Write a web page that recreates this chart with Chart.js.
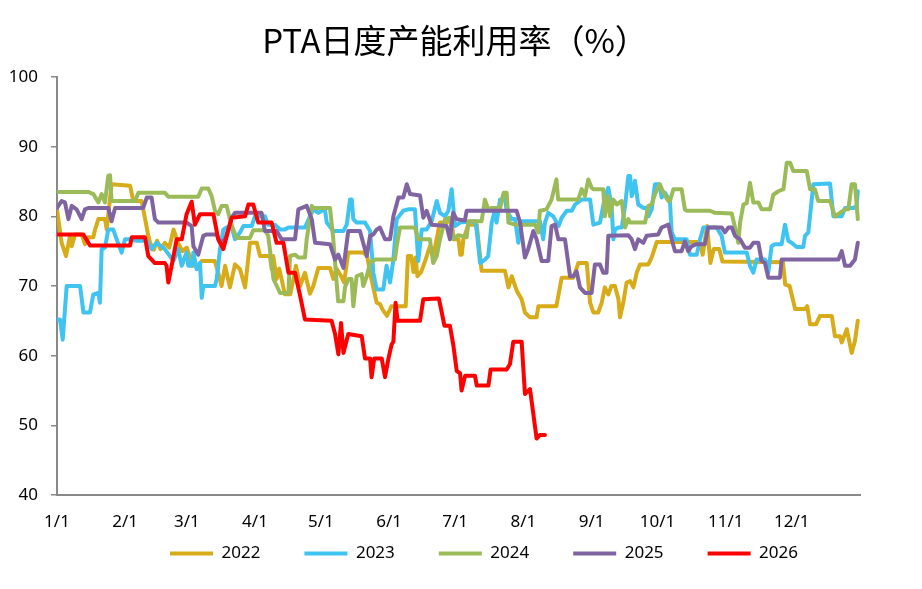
<!DOCTYPE html>
<html>
<head>
<meta charset="utf-8">
<script src="https://cdn.jsdelivr.net/npm/chart.js@4.4.0/dist/chart.umd.min.js"></script>
<style>
html,body{margin:0;padding:0;background:#fff;}
#wrap{width:922px;height:589px;}
</style>
</head>
<body>
<div id="wrap"><canvas id="c" width="922" height="589"></canvas></div>
<script>
// x = day of year (0 = 1/1), y = utilisation %
const monthStartDays = [0,31,59,90,120,151,181,212,243,273,304,334];
const monthLabels = ['1/1','2/1','3/1','4/1','5/1','6/1','7/1','8/1','9/1','10/1','11/1','12/1'];
const yTicks = [40,50,60,70,80,90,100];
const seriesNames = ['2022','2023','2024','2025','2026'];

const s2022 = [[0,81.0],[2.1,76.2],[4.1,74.3],[5.9,77.2],[6.7,75.7],[8.2,77.4],[11.2,77.4],[12.7,76.0],[14.2,77.0],[16.5,77.0],[17.3,78.1],[18.8,79.6],[21.8,79.6],[22.6,78.1],[24.8,84.6],[33.2,84.4],[34.7,82.2],[38.5,82.2],[41.5,77.2],[42.3,76.2],[44,75.2],[45.5,76.5],[47,75.3],[49,76.2],[51,75.5],[53,78.1],[55,76.2],[57,75.0],[59,75.5],[60.5,74.0],[61.5,72.9],[64.2,72.9],[65.8,73.6],[71.7,73.6],[73.3,71.9],[74.8,70.0],[76.4,72.9],[78.6,69.8],[80.9,73.1],[83.2,72.4],[85.5,69.8],[87.7,76.2],[90.8,76.2],[92.3,74.3],[96.8,74.3],[97.6,72.4],[98.3,74.3],[99.8,71.0],[101,72.5],[103.6,68.8],[106,68.8],[107.5,71.0],[108.6,72.9],[110.5,70.0],[112.7,71.9],[115,68.9],[116.5,70.0],[118.8,72.6],[124.1,72.6],[125.6,71.0],[127,72.5],[129,71.5],[130.5,70.5],[132.4,74.8],[139.2,74.8],[141,74.3],[142.3,71.9],[145.3,67.6],[146.8,67.4],[148,66.6],[150,65.7],[152,67.1],[158.5,67.1],[159.5,74.3],[161,74.3],[162,72.0],[163,74.1],[163.8,71.4],[165.5,72.0],[167,73.3],[169.5,75.7],[171,74.3],[172.5,76.6],[174,79.1],[177,79.1],[179,79.6],[180.5,76.7],[182.5,76.7],[183.3,74.5],[184,74.5],[184.7,76.7],[187,78.8],[190.8,78.8],[191.5,76.7],[193,72.2],[203.6,72.2],[205.2,69.8],[206.7,71.4],[209,69.3],[211.2,68.1],[212.7,66.2],[215,65.5],[218,65.5],[218.8,67.1],[227,67.1],[229.4,71.2],[234.7,71.2],[237,73.3],[240.8,73.3],[242.3,67.6],[243.8,66.2],[246,66.2],[247.6,67.6],[249,69.8],[250.6,68.8],[252,70.0],[253.6,70.0],[255.2,68.1],[255.9,65.5],[257.4,67.6],[258.9,70.5],[260.5,70.7],[262,69.8],[263.5,71.9],[265,73.1],[268.8,73.1],[270.3,74.1],[272.6,76.3],[292,76.3],[293.5,74.5],[295.5,78.6],[297,73.3],[298.5,75.3],[301,75.3],[302.5,73.5],[330,73.4],[331,70.2],[333,70.0],[335.5,66.7],[340,66.7],[341,67.1],[342.3,64.5],[345,64.5],[346.8,65.7],[352.2,65.7],[353.6,62.8],[355.9,62.8],[356.7,61.9],[359,63.8],[361.2,60.4],[362.7,62.1],[364,65.0]];

const s2023 = [[0,65.2],[1.4,65.2],[2.6,62.3],[4.4,70.0],[10.5,70.0],[12,66.2],[15,66.2],[16.5,68.8],[18.8,69.0],[19.5,67.6],[20.3,75.3],[21.8,75.5],[23.3,78.1],[25.6,78.1],[27.1,76.7],[29.4,74.8],[30.9,76.7],[33.2,76.7],[36.2,76.5],[40.8,76.5],[43,75.3],[45.3,76.2],[49,75.3],[52.9,73.6],[55.1,75.3],[56.7,72.9],[58.9,74.8],[59.7,72.9],[61.2,72.9],[62,74.8],[63.5,72.4],[65,73.3],[65.8,68.3],[66.5,70.0],[71.8,70.0],[72.6,71.0],[74.1,75.3],[75.6,78.1],[77.1,78.4],[79.4,78.4],[80.9,76.7],[83.2,77.7],[84.7,78.6],[88.5,78.6],[90,80.0],[94.5,80.0],[96,78.8],[99,78.8],[101.4,78.1],[103.6,78.1],[105.2,78.4],[112.7,78.4],[115,80.0],[116.5,81.0],[118.8,80.5],[120.3,80.8],[121.8,81.0],[122.6,79.1],[125.6,77.9],[130.2,77.9],[131.7,78.8],[133.2,82.4],[134,82.4],[134.7,79.6],[136.2,79.1],[140,79.1],[142.3,77.9],[143.8,71.9],[145.3,69.5],[148.3,69.5],[149.8,72.9],[151.4,70.5],[152.9,73.8],[154.4,79.6],[157.4,80.8],[159.7,81.0],[162.7,81.0],[164.2,73.6],[165.8,78.1],[168,78.1],[170.3,79.3],[172.6,82.2],[174.1,80.5],[176.4,80.0],[177.9,80.8],[179.4,83.9],[180.9,78.6],[183.2,79.1],[190,79.3],[190.8,77.9],[192.3,73.3],[194.5,73.8],[196,74.3],[197.6,79.1],[199,80.8],[199.8,79.1],[201.4,82.4],[203.6,82.6],[204.4,80.8],[206.7,79.6],[208.2,79.6],[209.7,76.2],[211.2,79.3],[219.5,79.3],[221,76.7],[221.8,79.1],[223.3,80.5],[225.6,80.0],[228,78.6],[229.4,79.8],[231.7,80.8],[234,80.8],[235.5,81.7],[238.5,82.4],[242.3,82.4],[243.8,78.8],[246.8,79.1],[249,82.7],[250.6,84.1],[252.1,81.5],[252.9,76.7],[253.6,78.1],[255.2,78.4],[256.7,78.4],[258.2,81.5],[259.7,85.8],[260.5,85.8],[261.2,82.9],[262,83.6],[262.7,85.1],[264.2,81.7],[266.5,81.2],[268,81.2],[268.8,80.0],[270.3,81.0],[271.8,84.6],[274,84.6],[274.8,82.7],[276.3,83.4],[278.6,82.2],[279.4,77.7],[280.9,76.7],[286.2,76.7],[287.7,74.5],[290.8,74.5],[292.3,76.7],[293.8,78.4],[299.8,78.4],[302.1,77.2],[303.6,74.8],[313.5,74.8],[315,72.9],[316.5,71.9],[318,73.8],[321.8,73.8],[323.3,71.9],[324.8,75.7],[326.4,76.0],[329.4,76.0],[330.9,78.8],[332.4,76.5],[333.9,76.2],[336.2,75.6],[339.2,75.6],[340,77.2],[341.5,77.7],[343.8,84.6],[351.4,84.7],[352.9,80.0],[356.7,80.0],[358.2,81.2],[362,81.2],[363.5,81.5],[364,83.6]];

const s2024 = [[0,83.5],[14.2,83.5],[16.5,83.2],[18.8,82.0],[20.3,83.2],[21.8,82.0],[23.3,85.8],[24.1,85.9],[24.8,82.2],[35.5,82.2],[37,83.4],[49,83.4],[50.6,82.8],[64.2,82.8],[65.8,84.0],[68.8,84.0],[70.3,82.9],[71.8,80.8],[73.3,80.3],[74.8,81.5],[77.1,81.5],[78.6,79.6],[80.1,78.1],[81.7,76.9],[87.7,76.9],[89.2,78.0],[94.5,78.0],[96,77.2],[98.4,71.0],[99.9,70.0],[101.4,69.0],[105.2,69.0],[105.9,74.3],[108.2,74.5],[109.7,74.1],[112.7,74.1],[113.5,76.7],[115.8,81.5],[116.5,81.2],[124.1,81.2],[125.6,76.7],[127.1,70.5],[127.8,67.8],[130.2,67.8],[130.9,69.8],[132.4,71.0],[133.9,71.0],[134.7,67.1],[136.2,71.4],[138.5,71.7],[139.2,70.0],[140.8,71.4],[142.3,73.3],[144.6,73.8],[153.6,73.8],[154.4,75.7],[155.9,78.4],[162.7,78.4],[164.2,76.7],[169.5,76.7],[171,73.3],[172.6,74.3],[174.1,76.7],[176.4,79.6],[178.6,79.8],[180.1,76.7],[182.4,77.3],[186.2,77.0],[187,79.3],[193,79.3],[194.5,82.4],[196,81.0],[197.6,81.2],[201.4,81.2],[203,83.4],[204.4,83.4],[205.2,79.1],[208.2,78.8],[217.3,78.8],[218.8,77.7],[219.5,80.8],[222.5,81.0],[224.8,82.4],[227,85.3],[227.8,82.4],[236.9,82.4],[238.5,83.9],[240,82.9],[241.5,85.3],[243,84.1],[243.8,83.9],[248.3,83.9],[249,80.0],[250.6,82.9],[251.4,80.0],[252.9,82.4],[254.4,81.7],[256.7,82.2],[258.2,78.4],[259.7,79.6],[260.5,79.1],[267.3,79.1],[268.8,81.5],[270.3,81.7],[271.8,83.2],[274,84.6],[275.6,83.4],[277.9,82.2],[278.6,82.2],[280.2,83.9],[283.9,83.9],[285.4,81.0],[286.2,80.8],[296.8,80.8],[299.1,80.5],[306.7,80.4],[308.2,78.4],[309.7,76.2],[310.5,79.1],[312,81.7],[313.5,81.9],[315,84.8],[316.5,82.0],[318.8,82.0],[320.3,81.0],[324.1,81.0],[325.6,83.1],[327.9,83.6],[330.2,83.9],[331.7,87.7],[333.2,87.7],[334.7,86.5],[340.8,86.5],[342.3,83.9],[344.5,83.9],[346,82.2],[351.4,82.2],[353.6,80.0],[355.9,80.5],[358.2,81.0],[359.7,81.0],[361.2,84.6],[362.7,84.6],[364,79.6]];

const s2025 = [[0,81.2],[2.1,82.2],[3.6,82.0],[5.2,79.6],[6.7,81.5],[8.9,81.0],[11.2,79.6],[12.7,81.0],[14.2,81.2],[23.3,81.2],[24.8,79.3],[26.4,81.2],[39.2,81.2],[40.8,82.7],[43,82.7],[44.5,79.6],[46.1,79.1],[58.9,79.1],[61.2,78.6],[62,75.7],[64.2,74.5],[66.5,77.2],[68,77.4],[72.6,77.4],[74.1,76.2],[76.4,76.7],[79.4,79.8],[80.9,80.5],[93,80.5],[94.5,77.9],[99.8,77.9],[102.1,76.7],[108.2,76.7],[109.7,81.0],[113.5,81.5],[115.8,79.6],[117.3,76.2],[124.1,76.0],[126.4,73.8],[127.9,74.5],[130.2,72.6],[132.4,77.9],[137.7,77.9],[140.8,74.3],[142.3,77.2],[143.8,77.4],[145.3,78.1],[146.8,78.4],[149.1,76.7],[151.4,76.7],[152.9,80.0],[155.2,82.7],[157.4,82.7],[159,84.6],[160.5,83.2],[165,83.0],[166.5,79.8],[168,80.8],[170.3,78.8],[177.1,78.6],[178.6,76.7],[180.1,80.5],[181.6,79.6],[185.4,79.4],[186.2,80.8],[208.9,80.8],[210.5,79.1],[212.7,74.1],[214.2,75.3],[216.5,77.9],[218,76.7],[220.3,73.6],[223.3,73.6],[224.8,78.6],[226.4,78.8],[227.9,76.7],[230.9,76.7],[233.2,71.4],[234.7,71.4],[236.2,72.1],[237.7,69.8],[240,69.0],[243,69.0],[244.5,73.1],[246.8,73.1],[248.3,71.9],[249.8,71.9],[250.6,77.2],[259.7,77.3],[261.2,76.7],[262.7,75.3],[264.2,76.7],[266.5,76.2],[268,77.2],[273.3,77.4],[274.8,78.4],[277.9,78.8],[279.4,76.7],[280.9,75.0],[283.9,75.0],[285.4,76.4],[286.9,75.0],[288.4,75.7],[290.7,76.0],[294.5,76.0],[296,78.4],[302.1,78.4],[303.6,77.7],[305.2,78.4],[306.7,78.4],[308.2,77.2],[310.5,76.7],[312.7,75.5],[315,75.5],[316.5,76.2],[318.8,76.2],[320.3,73.6],[321.8,73.3],[323.3,71.2],[328.6,71.2],[329.4,73.8],[355.2,73.8],[356.7,75.0],[358.2,72.9],[360.5,72.9],[362.7,73.8],[364,76.2]];

const s2026 = [[0,77.4],[12,77.4],[15,75.8],[33.2,75.8],[34,77.0],[40,77.0],[41.5,74.3],[44.5,73.3],[49,73.3],[49.8,72.9],[50.6,70.5],[52.1,72.9],[54.4,76.7],[56.7,76.7],[58.9,80.3],[61.2,82.1],[62.7,78.8],[65,80.3],[71.1,80.3],[73.3,76.7],[75.6,75.3],[79.4,79.8],[85.5,80.0],[87,81.7],[89.2,81.7],[91.5,79.1],[97.6,79.1],[99.8,76.2],[102.9,76.2],[105.2,71.9],[108.2,71.9],[110.5,68.6],[112.7,65.2],[124.8,65.0],[126.4,63.1],[127.9,60.2],[129.1,64.7],[130.2,60.4],[132.4,63.1],[138.5,62.8],[140,59.6],[142.3,59.6],[143,56.9],[144.2,59.6],[147.6,59.6],[149.1,56.9],[150.6,59.5],[152.1,61.6],[152.9,62.0],[153.9,67.6],[154.8,65.0],[165,65.0],[166.5,68.1],[173.6,68.2],[176.1,64.3],[178.6,64.3],[180.2,61.4],[181.7,57.8],[183.2,57.5],[183.9,55.0],[185.5,57.1],[190,57.1],[190.8,55.7],[196.1,55.7],[197.1,58.0],[204.4,58.0],[205.9,58.8],[207.4,62.0],[211.2,62.0],[212.7,54.5],[215,55.2],[218,48.1],[219.5,48.6],[221.8,48.6]];

const seriesData = [s2022, s2023, s2024, s2025, s2026];
const seriesColors = ['#D8AB19','#3FC4F2','#9BBB59','#8064A2','#FF0000'];

const FONT = '"Noto Sans", "DejaVu Sans", sans-serif';

const datasets = seriesData.map((arr, i) => ({
  label: seriesNames[i],
  data: arr.map(p => ({x: p[0], y: p[1]})),
  borderColor: seriesColors[i],
  backgroundColor: seriesColors[i],
  borderWidth: 4,
  pointRadius: 0,
  pointHoverRadius: 0,
  pointStyle: 'line',
  tension: 0,
  fill: false,
  borderJoinStyle: 'round',
  borderCapStyle: 'round',
  order: seriesData.length - i
}));

// fine placement of title / legend / x label band (Excel-like layout)
const shiftBoxes = {
  id: 'shiftBoxes',
  afterLayout(chart) {
    if (chart.titleBlock) { chart.titleBlock.right += 50; }
    if (chart.legend) { chart.legend.left += 54; chart.legend.right += 54; }
    const xs = chart.scales.x;
    if (xs) { xs.bottom = xs.top + 42; }
  }
};

new Chart(document.getElementById('c'), {
  type: 'line',
  data: { datasets },
  plugins: [shiftBoxes],
  options: {
    responsive: false,
    animation: false,
    devicePixelRatio: 1,
    layout: { padding: { left: 0, right: 62, top: 0, bottom: 17 } },
    plugins: {
      tooltip: { enabled: false },
      title: {
        display: true,
        text: 'PTA日度产能利用率（%）',
        color: '#000',
        font: { family: '"Noto Sans CJK SC", sans-serif', size: 33, weight: 'normal' },
        padding: { top: 21, bottom: 16.4 }
      },
      legend: {
        display: true,
        position: 'bottom',
        labels: {
          usePointStyle: true,
          pointStyleWidth: 43,
          boxHeight: 4,
          padding: 44,
          color: '#000',
          font: { family: FONT, size: 17 },
          sort: (a, b) => a.datasetIndex - b.datasetIndex
        }
      }
    },
    scales: {
      x: {
        type: 'linear',
        min: 0,
        max: 365,
        afterFit: s => { s.height = 6; },
        afterBuildTicks: s => { s.ticks = monthStartDays.map(v => ({ value: v })); },
        ticks: {
          autoSkip: false,
          maxRotation: 0,
          padding: 17,
          color: '#000',
          font: { family: FONT, size: 17 },
          callback: v => { const k = monthStartDays.indexOf(v); return k >= 0 ? monthLabels[k] : ''; }
        },
        grid: { display: false, drawTicks: false },
        border: { display: true, color: '#898989', width: 2 }
      },
      y: {
        min: 40,
        max: 100,
        afterFit: s => { s.width = 57; },
        afterBuildTicks: s => { s.ticks = yTicks.map(v => ({ value: v })); },
        ticks: {
          padding: 13,
          color: '#000',
          font: { family: FONT, size: 17 }
        },
        grid: { display: true, drawOnChartArea: false, drawTicks: true, tickLength: 6, color: '#898989', lineWidth: 1.5 },
        border: { display: true, color: '#898989', width: 2 }
      }
    }
  }
});
</script>
</body>
</html>
